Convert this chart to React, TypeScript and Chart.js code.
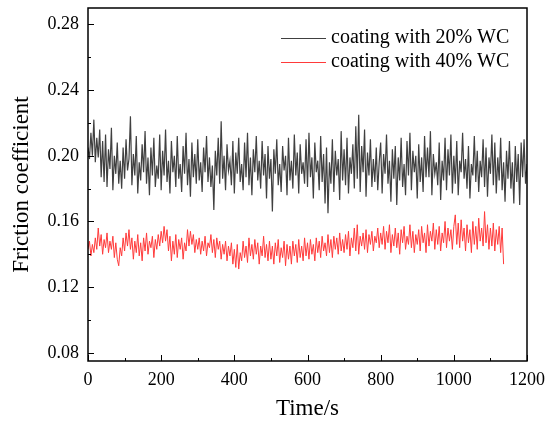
import { useEffect, useRef } from "react";
import { Chart, registerables } from "chart.js";

Chart.register(...registerables);

// seconds between the plotted samples
const SAMPLE_STEP = 4;

const xTicks = [0, 200, 400, 600, 800, 1000, 1200];
const xMinorTicks = [100, 300, 500, 700, 900, 1100];
const yTicks = [0.08, 0.12, 0.16, 0.2, 0.24, 0.28];
const yMinorTicks = [0.1, 0.14, 0.18, 0.22, 0.26];

const seriesNames = ["coating with 20% WC", "coating with 40% WC"];
const seriesColors = ["#404040", "#ff3a3a"];

// friction coefficient, coating with 20% WC (0 .. 1200 s)
const wc20 = [
  0.205, 0.198, 0.214, 0.2, 0.222, 0.196, 0.211, 0.199, 0.216, 0.187, 0.209, 0.184, 0.213,
  0.181, 0.204, 0.192, 0.217, 0.179, 0.2, 0.189, 0.208, 0.183, 0.197, 0.18, 0.205,
  0.186, 0.21, 0.191, 0.198, 0.224, 0.182, 0.201, 0.188, 0.212, 0.177, 0.196, 0.185, 0.207,
  0.19, 0.215, 0.183, 0.199, 0.176, 0.205, 0.188, 0.211, 0.181, 0.194, 0.186, 0.213,
  0.179, 0.203, 0.188, 0.216, 0.184, 0.197, 0.177, 0.209, 0.19, 0.2, 0.181, 0.212, 0.186,
  0.195, 0.178, 0.206, 0.189, 0.214, 0.182, 0.198, 0.175, 0.208, 0.187, 0.201, 0.183,
  0.21, 0.185, 0.196, 0.178, 0.205, 0.19, 0.212, 0.184, 0.199, 0.181, 0.194, 0.167, 0.203,
  0.188, 0.211, 0.183, 0.221, 0.186, 0.2, 0.179, 0.207, 0.191, 0.197, 0.182, 0.209,
  0.177, 0.202, 0.189, 0.211, 0.184, 0.195, 0.179, 0.208, 0.187, 0.214, 0.182, 0.199, 0.176,
  0.204, 0.19, 0.212, 0.185, 0.197, 0.18, 0.209, 0.188, 0.201, 0.174, 0.206, 0.186,
  0.198, 0.166, 0.204, 0.189, 0.21, 0.182, 0.195, 0.178, 0.206, 0.191, 0.2, 0.176, 0.211,
  0.185, 0.197, 0.18, 0.213, 0.188, 0.202, 0.177, 0.207, 0.189, 0.196, 0.183, 0.21,
  0.181, 0.214, 0.187, 0.199, 0.174, 0.208, 0.19, 0.197, 0.179, 0.212, 0.184, 0.201, 0.171,
  0.205, 0.165, 0.196, 0.183, 0.21, 0.178, 0.203, 0.188, 0.198, 0.173, 0.215, 0.185,
  0.204, 0.182, 0.211, 0.177, 0.199, 0.189, 0.207, 0.18, 0.218, 0.186, 0.225, 0.178, 0.206,
  0.19, 0.216, 0.175, 0.202, 0.188, 0.21, 0.181, 0.198, 0.184, 0.205, 0.179, 0.196,
  0.208, 0.177, 0.201, 0.189, 0.213, 0.183, 0.197, 0.172, 0.204, 0.186, 0.206, 0.17, 0.199,
  0.185, 0.211, 0.181, 0.195, 0.176, 0.209, 0.188, 0.214, 0.179, 0.203, 0.19, 0.2,
  0.174, 0.207, 0.184, 0.199, 0.178, 0.212, 0.187, 0.205, 0.187, 0.215, 0.176, 0.201, 0.189,
  0.196, 0.182, 0.208, 0.173, 0.197, 0.185, 0.211, 0.179, 0.204, 0.188, 0.213, 0.177,
  0.2, 0.183, 0.209, 0.176, 0.197, 0.19, 0.214, 0.186, 0.198, 0.18, 0.206, 0.174, 0.195,
  0.188, 0.212, 0.184, 0.203, 0.178, 0.197, 0.187, 0.21, 0.181, 0.205, 0.175, 0.199,
  0.189, 0.213, 0.182, 0.208, 0.177, 0.199, 0.185, 0.211, 0.179, 0.196, 0.172, 0.203, 0.186,
  0.209, 0.18, 0.196, 0.171, 0.206, 0.184, 0.201, 0.17, 0.208, 0.187, 0.21, 0.183,
  0.195,
];

// friction coefficient, coating with 40% WC (0 .. 1136 s)
const wc40 = [
  0.143, 0.148, 0.139, 0.146, 0.141, 0.15, 0.143, 0.156, 0.145, 0.152, 0.14, 0.149, 0.144,
  0.153, 0.141, 0.148, 0.143, 0.151, 0.138, 0.147, 0.137, 0.133, 0.144, 0.139, 0.15,
  0.142, 0.153, 0.145, 0.155, 0.143, 0.15, 0.137, 0.148, 0.141, 0.152, 0.139, 0.147, 0.136,
  0.15, 0.142, 0.153, 0.14, 0.148, 0.144, 0.151, 0.138, 0.149, 0.143, 0.152, 0.145,
  0.154, 0.147, 0.157, 0.148, 0.155, 0.142, 0.151, 0.136, 0.148, 0.14, 0.152, 0.138, 0.149,
  0.143, 0.15, 0.137, 0.147, 0.142, 0.155, 0.145, 0.154, 0.146, 0.152, 0.141, 0.149,
  0.143, 0.15, 0.14, 0.148, 0.142, 0.151, 0.139, 0.147, 0.144, 0.152, 0.141, 0.149, 0.138,
  0.15, 0.143, 0.148, 0.137, 0.146, 0.14, 0.148, 0.136, 0.145, 0.139, 0.147, 0.134,
  0.143, 0.132, 0.146, 0.131, 0.141, 0.136, 0.148, 0.138, 0.145, 0.135, 0.15, 0.139, 0.146,
  0.137, 0.149, 0.14, 0.147, 0.134, 0.145, 0.139, 0.151, 0.138, 0.146, 0.136, 0.148,
  0.137, 0.145, 0.134, 0.147, 0.139, 0.149, 0.135, 0.144, 0.138, 0.148, 0.133, 0.146, 0.137,
  0.145, 0.134, 0.148, 0.139, 0.146, 0.135, 0.149, 0.138, 0.145, 0.136, 0.15, 0.139,
  0.147, 0.137, 0.149, 0.14, 0.146, 0.136, 0.15, 0.141, 0.148, 0.138, 0.151, 0.142, 0.147,
  0.139, 0.152, 0.141, 0.149, 0.138, 0.151, 0.143, 0.15, 0.14, 0.153, 0.142, 0.149,
  0.141, 0.152, 0.143, 0.154, 0.139, 0.15, 0.144, 0.156, 0.142, 0.158, 0.14, 0.151, 0.145,
  0.153, 0.143, 0.155, 0.141, 0.152, 0.146, 0.154, 0.142, 0.151, 0.147, 0.156, 0.144,
  0.153, 0.146, 0.157, 0.143, 0.154, 0.147, 0.158, 0.141, 0.152, 0.145, 0.156, 0.144, 0.153,
  0.14, 0.155, 0.147, 0.157, 0.143, 0.151, 0.146, 0.158, 0.144, 0.154, 0.141, 0.152,
  0.146, 0.155, 0.142, 0.157, 0.147, 0.153, 0.141, 0.158, 0.145, 0.154, 0.148, 0.159, 0.143,
  0.155, 0.146, 0.157, 0.142, 0.153, 0.147, 0.16, 0.144, 0.156, 0.148, 0.155, 0.143,
  0.157, 0.164, 0.146, 0.159, 0.144, 0.161, 0.148, 0.156, 0.142, 0.158, 0.147, 0.155, 0.141,
  0.16, 0.146, 0.157, 0.143, 0.162, 0.148, 0.156, 0.145, 0.166, 0.147, 0.158, 0.143,
  0.156, 0.145, 0.159, 0.142, 0.155, 0.146, 0.157, 0.141, 0.156, 0.134,
];

const SERIF = "'Liberation Serif', 'Times New Roman', serif";

const toPoints = (values: number[]) =>
  values.map((y, i) => ({ x: i * SAMPLE_STEP, y }));

// Chart.js reserves room for edge labels; the plot box is set by layout.padding instead
const noScalePadding = (s: any) => {
  s.paddingTop = 0;
  s.paddingBottom = 0;
  s.paddingLeft = 0;
  s.paddingRight = 0;
};

// inward ticks, closed frame and the legend inside the plot
const framePlugin = {
  id: "frame",
  afterDraw(chart: any) {
    const { ctx, chartArea: a, scales } = chart;
    const xs = scales.x;
    const ys = scales.y;
    ctx.save();
    ctx.strokeStyle = "#000";
    ctx.lineWidth = 1;
    ctx.beginPath();
    xTicks.forEach((v) => {
      const px = Math.round(xs.getPixelForValue(v)) + 0.5;
      ctx.moveTo(px, a.bottom);
      ctx.lineTo(px, a.bottom - 6);
    });
    xMinorTicks.forEach((v) => {
      const px = Math.round(xs.getPixelForValue(v)) + 0.5;
      ctx.moveTo(px, a.bottom);
      ctx.lineTo(px, a.bottom - 3);
    });
    yTicks.forEach((v) => {
      const py = Math.round(ys.getPixelForValue(v)) + 0.5;
      ctx.moveTo(a.left, py);
      ctx.lineTo(a.left + 6, py);
    });
    yMinorTicks.forEach((v) => {
      const py = Math.round(ys.getPixelForValue(v)) + 0.5;
      ctx.moveTo(a.left, py);
      ctx.lineTo(a.left + 3, py);
    });
    ctx.stroke();

    ctx.lineWidth = 1.5;
    ctx.strokeRect(a.left, a.top, a.right - a.left, a.bottom - a.top);

    // legend
    const lx = a.right - 246;
    ctx.font = `20px ${SERIF}`;
    ctx.textBaseline = "middle";
    ctx.textAlign = "left";
    seriesNames.forEach((name, i) => {
      const ly = a.top + 30 + i * 24;
      ctx.strokeStyle = seriesColors[i];
      ctx.lineWidth = 1;
      ctx.beginPath();
      ctx.moveTo(lx, ly + 0.5);
      ctx.lineTo(lx + 45, ly + 0.5);
      ctx.stroke();
      ctx.fillStyle = "#000";
      ctx.fillText(name, lx + 50, ly);
    });
    ctx.restore();
  },
};

export default function App() {
  const canvasRef = useRef<HTMLCanvasElement | null>(null);

  useEffect(() => {
    document.body.style.margin = "0";
    if (!canvasRef.current) return;
    const chart = new Chart(canvasRef.current, {
      type: "line",
      data: {
        datasets: [wc20, wc40].map((values, i) => ({
          label: seriesNames[i],
          data: toPoints(values),
          borderColor: seriesColors[i],
          borderWidth: i === 0 ? 1.2 : 1,
          pointRadius: 0,
          tension: 0,
          fill: false,
        })),
      },
      options: {
        responsive: false,
        animation: false,
        layout: { padding: { top: 8, right: 23, left: 0, bottom: 0 } },
        plugins: {
          legend: { display: false },
          tooltip: { enabled: false },
        },
        scales: {
          x: {
            type: "linear",
            min: 0,
            max: 1200,
            afterBuildTicks: (s: any) => {
              s.ticks = xTicks.map((value) => ({ value }));
            },
            afterFit: (s: any) => {
              s.height = 68;
              noScalePadding(s);
            },
            grid: { display: false, drawTicks: false },
            border: { display: false },
            ticks: {
              padding: 8,
              color: "#000",
              maxRotation: 0,
              autoSkip: false,
              font: { family: SERIF, size: 18 },
              callback: (v: any) => String(v),
            },
            title: {
              display: true,
              text: "Time/s",
              color: "#000",
              font: { family: SERIF, size: 23 },
              padding: { top: 0, bottom: 6 },
            },
          },
          y: {
            type: "linear",
            min: 0.075,
            max: 0.29,
            afterBuildTicks: (s: any) => {
              s.ticks = yTicks.map((value) => ({ value }));
            },
            afterFit: (s: any) => {
              s.width = 88;
              noScalePadding(s);
            },
            grid: { display: false, drawTicks: false },
            border: { display: false },
            ticks: {
              padding: 9,
              color: "#000",
              autoSkip: false,
              font: { family: SERIF, size: 18 },
              callback: (v: any) => Number(v).toFixed(2),
            },
            title: {
              display: true,
              text: "Friction coefficient",
              color: "#000",
              font: { family: SERIF, size: 23 },
              padding: { top: 8, bottom: 0 },
            },
          },
        },
      },
      plugins: [framePlugin],
    });
    return () => chart.destroy();
  }, []);

  return (
    <div>
      <canvas
        ref={canvasRef}
        width={550}
        height={429}
        style={{ display: "block" }}
      />
    </div>
  );
}
